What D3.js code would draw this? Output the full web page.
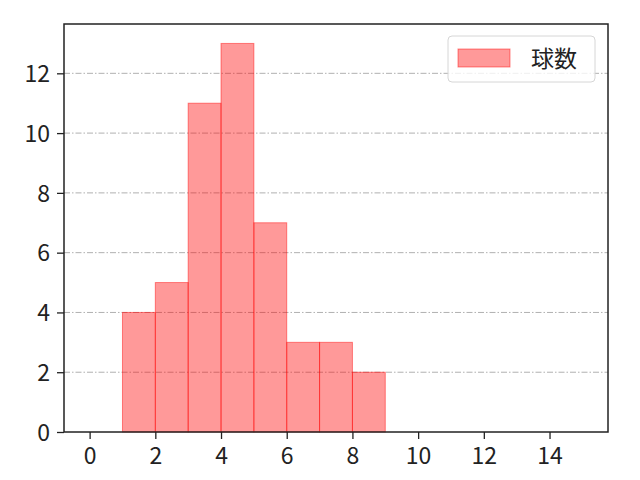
<!DOCTYPE html>
<html>
<head>
<meta charset="utf-8">
<script src="https://cdn.jsdelivr.net/npm/d3@7"></script>
<style>
  body { margin: 0; background: #fff; }
  svg text { font-family: "Noto Sans CJK JP", "Noto Sans", sans-serif; }
</style>
</head>
<body>
<svg id="chart" width="640" height="480"></svg>
<script>
// histogram bins (left edge, right edge) and counts
const binStarts = [1, 2, 3, 4, 5, 6, 7, 8];
const binEnds = [2, 3, 4, 5, 6, 7, 8, 9];
const counts = [4, 5, 11, 13, 7, 3, 3, 2];
const xTicks = [0, 2, 4, 6, 8, 10, 12, 14];
const yTicks = [0, 2, 4, 6, 8, 10, 12];
const seriesName = "球数";

const svg = d3.select("#chart");
const plotLeft = 64, plotRight = 608, plotTop = 24, plotBottom = 432;

const xScale = d3.scaleLinear().domain([-0.78, 15.78]).range([plotLeft, plotRight]);
const yScale = d3.scaleLinear().domain([0, 13.65]).range([plotBottom, plotTop]);

// grid lines
svg.append("g")
    .selectAll("line")
    .data(yTicks.filter(d => d > 0))
    .enter()
    .append("line")
    .attr("x1", plotLeft)
    .attr("x2", plotRight)
    .attr("y1", d => yScale(d))
    .attr("y2", d => yScale(d))
    .attr("stroke", "#b0b0b0")
    .attr("stroke-width", 1)
    .attr("stroke-dasharray", "6,2,1.5,2");

// bars
svg.append("g")
    .selectAll("rect")
    .data(counts)
    .enter()
    .append("rect")
    .attr("x", (d, i) => xScale(binStarts[i]))
    .attr("y", d => yScale(d))
    .attr("width", (d, i) => xScale(binEnds[i]) - xScale(binStarts[i]))
    .attr("height", d => plotBottom - yScale(d))
    .attr("fill", "#ff0000")
    .attr("fill-opacity", 0.4)
    .attr("stroke", "#ff0000")
    .attr("stroke-opacity", 0.45)
    .attr("stroke-width", 1);

// axes
const xAxis = svg.append("g")
    .attr("transform", `translate(0, ${plotBottom})`)
    .call(d3.axisBottom(xScale).tickValues(xTicks).tickSize(7).tickPadding(7).tickFormat(d3.format("d")));
const yAxis = svg.append("g")
    .attr("transform", `translate(${plotLeft}, 0)`)
    .call(d3.axisLeft(yScale).tickValues(yTicks).tickSize(7).tickPadding(7).tickFormat(d3.format("d")));
[xAxis, yAxis].forEach(a => {
    a.select(".domain").remove();
    a.selectAll("line").attr("stroke", "#222").attr("stroke-width", 1.3);
    a.selectAll("text").attr("fill", "#222").style("font-size", "23px");
});
xAxis.selectAll("text").attr("y", 32).attr("dy", null);
yAxis.selectAll("text").attr("dy", "0.36em");

// frame
svg.append("rect")
    .attr("x", plotLeft)
    .attr("y", plotTop)
    .attr("width", plotRight - plotLeft)
    .attr("height", plotBottom - plotTop)
    .attr("fill", "none")
    .attr("stroke", "#222")
    .attr("stroke-width", 1.5);

// legend
const legend = svg.append("g");
legend.append("rect")
    .attr("x", 448).attr("y", 36).attr("width", 147).attr("height", 46)
    .attr("rx", 4)
    .attr("fill", "#fff").attr("fill-opacity", 0.8)
    .attr("stroke", "#d6d6d6");
legend.append("rect")
    .attr("x", 458).attr("y", 49).attr("width", 52).attr("height", 18)
    .attr("fill", "#ff0000").attr("fill-opacity", 0.4)
    .attr("stroke", "#ff0000").attr("stroke-opacity", 0.45);
legend.append("text")
    .attr("x", 531).attr("y", 67)
    .style("font-size", "23px")
    .attr("fill", "#222")
    .text(seriesName);
</script>
</body>
</html>
